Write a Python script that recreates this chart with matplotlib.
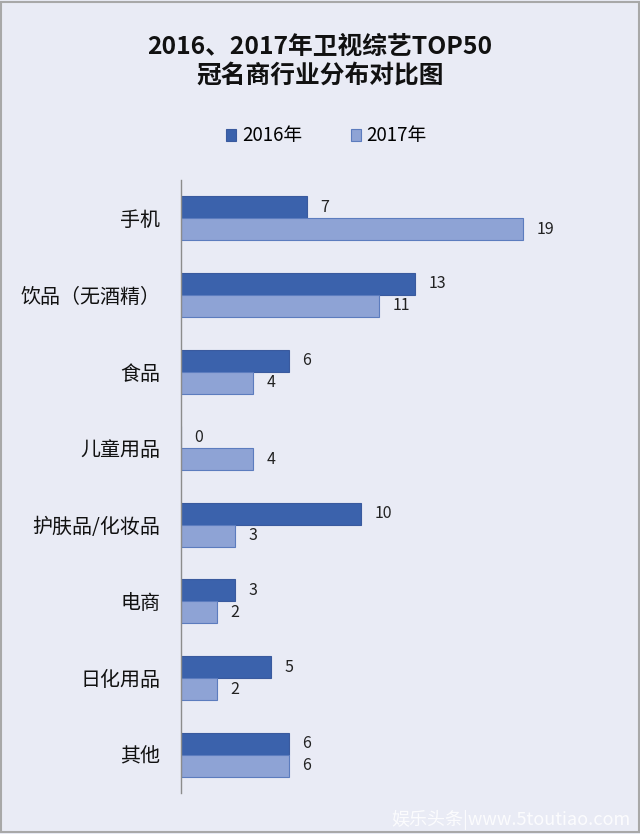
import matplotlib
matplotlib.use("Agg")
import matplotlib.pyplot as plt
from matplotlib.patches import Rectangle
import numpy as np

plt.rcParams['font.family'] = ['Noto Sans CJK SC', 'DejaVu Sans']

categories = ["手机", "饮品（无酒精）", "食品", "儿童用品", "护肤品/化妆品", "电商", "日化用品", "其他"]
values_2016 = [7, 13, 6, 0, 10, 3, 5, 6]
values_2017 = [19, 11, 4, 4, 3, 2, 2, 6]
series_names = ["2016年", "2017年"]
title = "2016、2017年卫视综艺TOP50\n冠名商行业分布对比图"

bg = "#E9EBF5"
c16 = "#3B62AC"
c17 = "#8EA3D5"
e16 = "#3A5A9E"
e17 = "#5C7CBE"

fig = plt.figure(figsize=(6.4, 8.34), dpi=100, facecolor=bg)
fig.patches.append(Rectangle((0.002, 0.002), 0.996, 0.996, transform=fig.transFigure,
                             fill=False, edgecolor="#A8A8A8", linewidth=1.5))
ax = fig.add_axes([181/640, 1-793/834, 360/640, (793-180)/834])
ax.set_facecolor(bg)

y = np.arange(len(categories))
h = 0.287
b1 = ax.barh(y - h/2, values_2016, height=h, color=c16, edgecolor=e16, linewidth=0.8, label=series_names[0])
b2 = ax.barh(y + h/2, values_2017, height=h, color=c17, edgecolor=e17, linewidth=0.8, label=series_names[1])
ax.bar_label(b1, padding=9.5, fontsize=11.5, color="#222222")
ax.bar_label(b2, padding=9.5, fontsize=11.5, color="#222222")

ax.set_xlim(0, 20)
ax.set_ylim(len(categories) - 0.5, -0.5)
ax.set_yticks(y)
ax.set_yticklabels(categories, fontsize=14.4, color="#111111")
ax.tick_params(axis='y', length=0, pad=15)
ax.set_xticks([])
for s in ["top", "right", "bottom"]:
    ax.spines[s].set_visible(False)
ax.spines["left"].set_color("#8C8C8C")
ax.spines["left"].set_linewidth(1.0)

fig.text(0.5, 1-61/834, title, ha="center", va="center", fontsize=17.8, fontweight="bold",
         color="#111111", linespacing=1.25)

leg = fig.legend(handles=[b1, b2], labels=series_names, loc="center", bbox_to_anchor=(0.51, 1-136/834),
                 ncol=2, frameon=False, fontsize=13.5, handlelength=0.55, handleheight=0.55,
                 columnspacing=2.6, handletextpad=0.3)

fig.text(0.985, 1-820/834, "娱乐头条|www.5toutiao.com", ha="right", va="center",
         fontsize=13, color="white", alpha=0.85)

fig.savefig("out.png", dpi=100, facecolor=bg)
